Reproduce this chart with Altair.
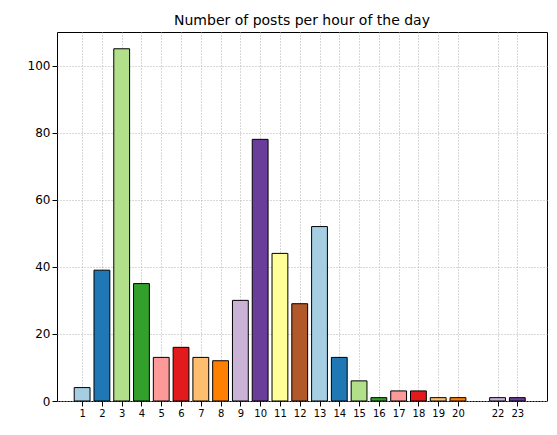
import altair as alt
import pandas as pd

hours = [1, 2, 3, 4, 5, 6, 7, 8, 9, 10, 11, 12, 13, 14, 15, 16, 17, 18, 19, 20, 22, 23]
posts = [4, 39, 105, 35, 13, 16, 13, 12, 30, 78, 44, 29, 52, 13, 6, 1, 3, 3, 1, 1, 1, 1]
paired = ["#a6cee3", "#1f78b4", "#b2df8a", "#33a02c", "#fb9a99", "#e31a1c",
          "#fdbf6f", "#ff7f00", "#cab2d6", "#6a3d9a", "#ffff99", "#b15928"]

df = pd.DataFrame({"hour": hours, "posts": posts})
df["color"] = [paired[i % 12] for i in range(len(df))]

chart = (
    alt.Chart(df)
    .transform_calculate(x0="datum.hour - 0.4", x1="datum.hour + 0.4")
    .mark_bar(stroke="black", strokeWidth=1)
    .encode(
        x=alt.X("x0:Q", scale=alt.Scale(domain=[-0.27, 24.5], nice=False, zero=False),
                axis=alt.Axis(values=hours, title=None, labelFontSize=10, gridDash=[1, 2],
                              gridColor="#b0b0b0", labelColor="black", tickColor="black",
                              domain=False, labelFlush=False)),
        x2="x1:Q",
        y=alt.Y("posts:Q", scale=alt.Scale(domain=[0, 110], nice=False),
                axis=alt.Axis(values=[0, 20, 40, 60, 80, 100], title=None, labelFontSize=12,
                              gridDash=[1, 2], gridColor="#b0b0b0", labelColor="black",
                              tickColor="black", domain=False)),
        y2=alt.datum(0),
        color=alt.Color("color:N", scale=None),
    )
    .properties(
        width=490, height=369,
        title=alt.TitleParams("Number of posts per hour of the day", fontSize=14,
                              fontWeight="normal", font="DejaVu Sans", color="black"),
        autosize="none",
        padding={"left": 49, "top": 24, "right": 2, "bottom": 26},
    )
    .configure_view(stroke="black", strokeWidth=1)
    .configure_axis(labelFont="DejaVu Sans")
)

chart.save("out.html", embed_options={"renderer": "svg", "actions": False})
